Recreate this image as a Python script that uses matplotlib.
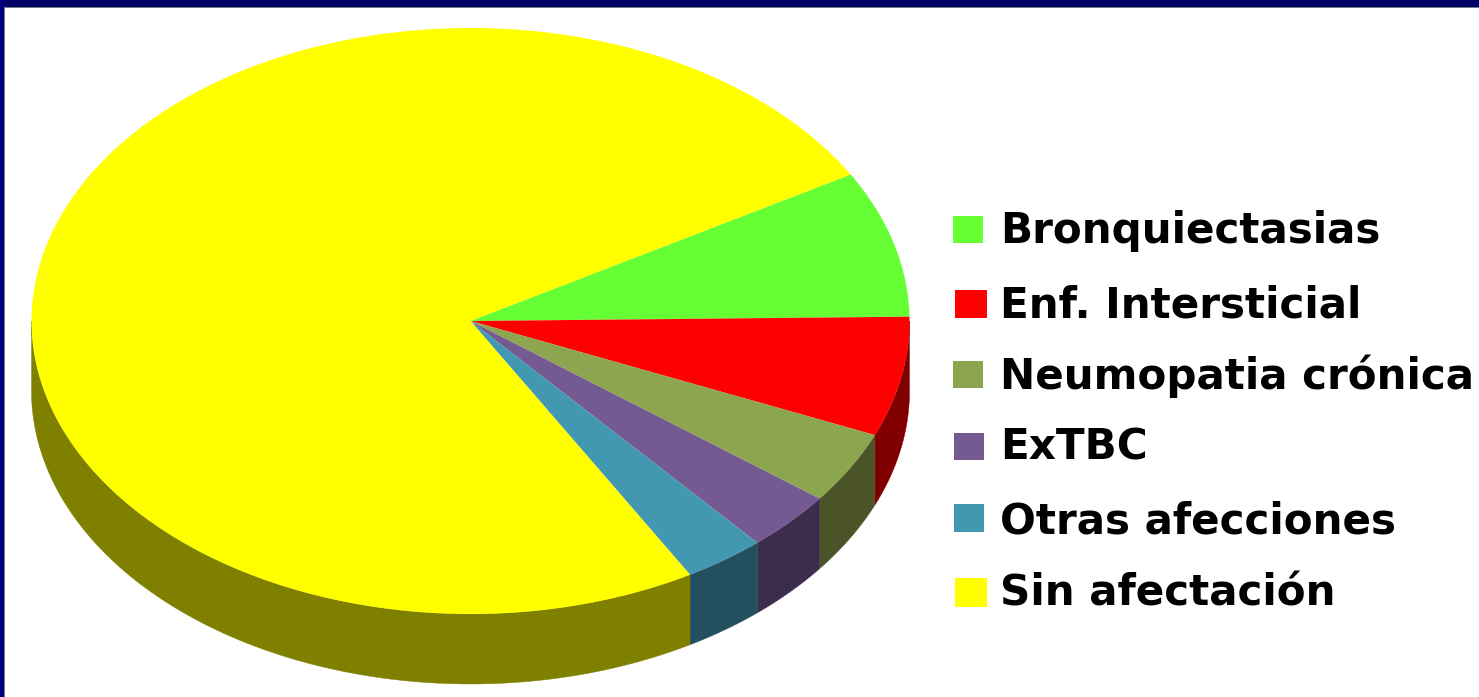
import numpy as np
import matplotlib
matplotlib.use('Agg')
import matplotlib.pyplot as plt
from matplotlib.patches import Rectangle

labels = ['Bronquiectasias', 'Enf. Intersticial', 'Neumopatia crónica',
          'ExTBC', 'Otras afecciones', 'Sin afectación']
values = [8.1, 6.6, 4.0, 3.3, 3.0, 75.0]
colors = ['#66FF33', '#FF0000', '#8CA54F', '#755A91', '#4198B0', '#FFFF00']
side_colors = ['#338019', '#800000', '#4A5428', '#3D2D4D', '#234F5F', '#808000']

W, H = 1479, 697
CX, CY = 470.5, 321    # pie centre in pixels
RX, RY = 439, 293      # ellipse radii in pixels
DEPTH = 70 / RY        # thickness of the disc, in data units
START = 30

fig = plt.figure(figsize=(W / 100, H / 100), dpi=100, facecolor='white')
ax = fig.add_axes([0, 0, 1, 1])

ax.pie(values, colors=colors, startangle=START, counterclock=False, radius=1,
       wedgeprops={'linewidth': 0, 'zorder': 3})
ax.set_aspect('auto')
ax.set_xlim(-CX / RX, (W - CX) / RX)
ax.set_ylim(-(H - CY) / RY, CY / RY)

# side wall of the disc, only the part facing down is visible
edges = START - np.cumsum([0] + values) * 3.6
for i in range(len(values)):
    a1 = min(edges[i], 0)
    a0 = max(edges[i + 1], -180)
    if a1 <= a0:
        continue
    t = np.radians(np.linspace(a1, a0, 200))
    x = np.cos(t)
    y = np.sin(t)
    ax.fill(np.r_[x, x[::-1]], np.r_[y, y[::-1] - DEPTH],
            color=side_colors[i], lw=0.3, zorder=2)

# overlay in pixel coordinates for the key and the slide frame
over = fig.add_axes([0, 0, 1, 1], facecolor='none')
over.set_xlim(0, W)
over.set_ylim(H, 0)
over.axis('off')

swatches = [(953, 216, 30, 27), (955, 290, 32, 28), (953, 361, 30, 27),
            (954, 433, 30, 27), (954, 504, 30, 28), (955, 578, 32, 29)]
baselines = [243, 317, 389, 460, 533, 606]
for label, col, box, ty in zip(labels, colors, swatches, baselines):
    over.add_patch(Rectangle(box[:2], box[2], box[3], fc=col, ec='none'))
    over.text(1000, ty, label, family='DejaVu Sans', weight='bold',
              fontsize=30.3, color='black', ha='left', va='baseline')

over.add_patch(Rectangle((0, 0), W, 7, fc='#000066', ec='none'))
over.add_patch(Rectangle((0, 0), 4, H, fc='#000080', ec='none'))
over.add_patch(Rectangle((4, 7), W, 1.2, fc='#777788', ec='none'))
over.add_patch(Rectangle((4, 7), 1.2, H, fc='#777788', ec='none'))

fig.savefig('out.png', dpi=100, facecolor='white')
